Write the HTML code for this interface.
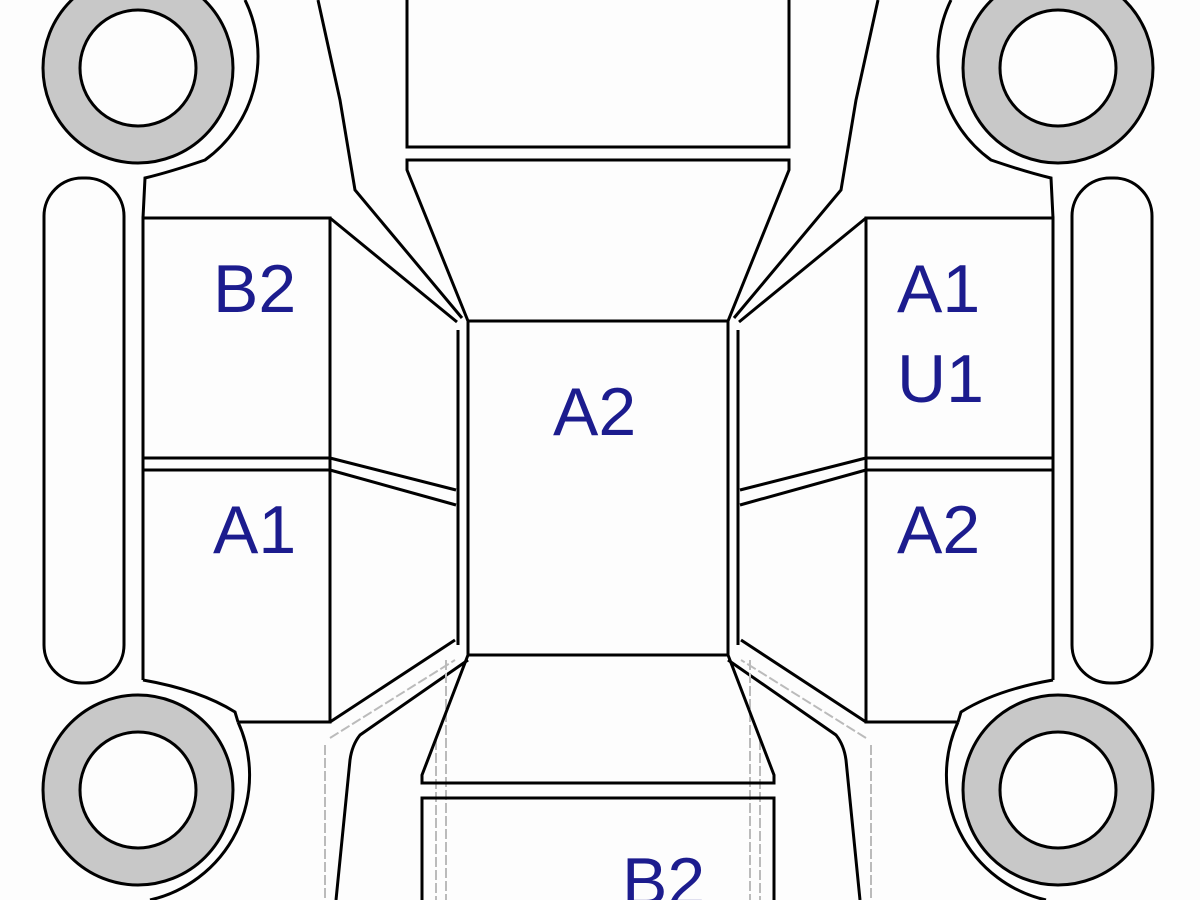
<!DOCTYPE html>
<html><head><meta charset="utf-8"><style>
html,body{margin:0;padding:0;background:#fdfdfd;width:1200px;height:900px;overflow:hidden}
svg{display:block}
text{font-family:"Liberation Sans",Arial,sans-serif;font-size:68px;fill:#1c1c8e}
</style></head><body>
<svg width="1200" height="900" viewBox="0 0 1200 900" xmlns="http://www.w3.org/2000/svg">
<defs>
<g id="half" fill="none" stroke="#000" stroke-width="3">
  <circle cx="138" cy="68" r="76" stroke="#c8c8c8" stroke-width="38"/>
  <circle cx="138" cy="68" r="95"/>
  <circle cx="138" cy="68" r="58"/>
  <circle cx="138" cy="790" r="76" stroke="#c8c8c8" stroke-width="38"/>
  <circle cx="138" cy="790" r="95"/>
  <circle cx="138" cy="790" r="58"/>
  <path d="M245,0 A128,128 0 0 1 205,160 Q170,172 145,178 L143,218"/>
  <path d="M143,680 Q200,690 235,712 L238,722"/>
  <path d="M238,722 A128,128 0 0 1 150,900"/>
  <rect x="44" y="178" width="80" height="505" rx="38"/>
  <path d="M143,680 V218 H330 V722 H238"/>
  <path d="M143,458 H330 M143,470 H330"/>
  <path d="M318,0 L340,100 L355,190 L462,318"/>
  <path d="M330,218 L457,322"/>
  <path d="M330,458 L456,490 M330,470 L456,505"/>
  <path d="M458,330 V645 M468,321 V655"/>
  <path d="M330,722 L455,640"/>
  <path d="M468,660 L360,735 Q352,745 350,760 L336,900"/>
  <path d="M330,738 L455,660 M325,745 V900 M436,740 V900 M446,660 V900" stroke="#bbb" stroke-width="2" stroke-dasharray="10,3"/>
  <path d="M407,0 V147 H598"/>
  <path d="M598,160 H407 V170 L468,321 H598"/>
  <path d="M598,655 H468 L422,775 V783 H598"/>
  <path d="M598,798 H422 V900"/>
</g>
</defs>
<use href="#half"/>
<use href="#half" transform="translate(1196,0) scale(-1,1)"/>
<text x="213" y="312">B2</text>
<text x="213" y="553">A1</text>
<text x="553" y="435">A2</text>
<text x="897" y="312">A1</text>
<text x="897" y="402">U1</text>
<text x="897" y="553">A2</text>
<text x="622" y="905">B2</text>
</svg>
</body></html>
